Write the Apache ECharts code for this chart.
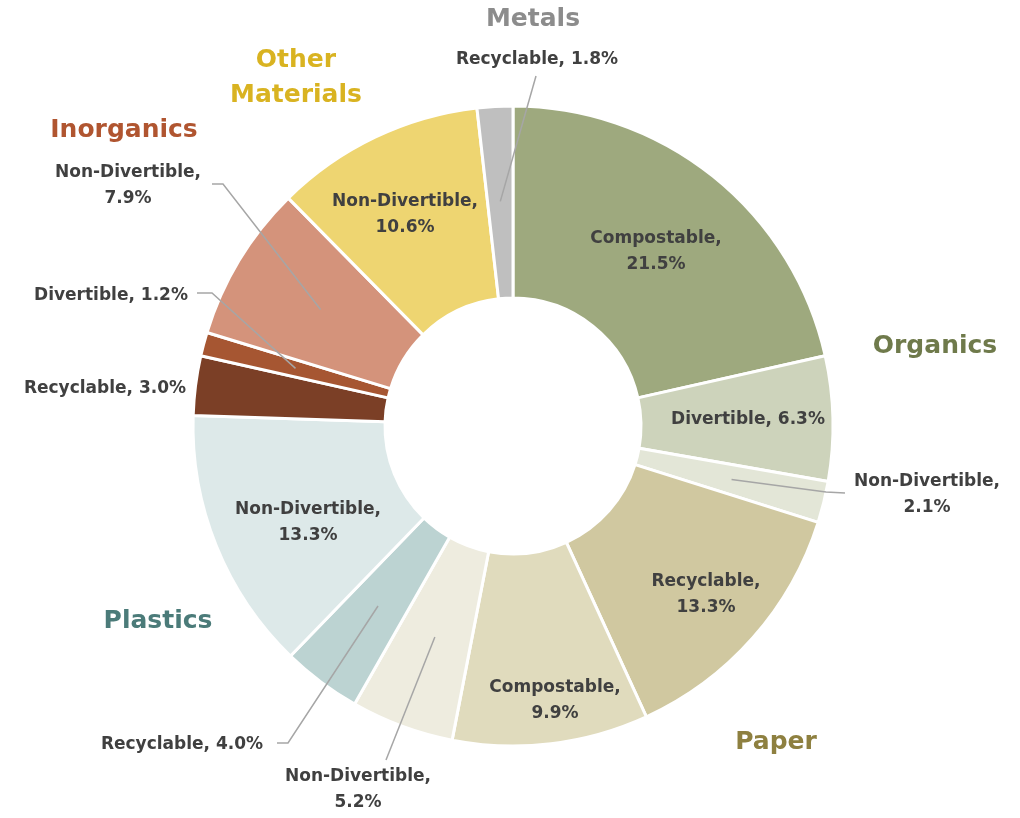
<!DOCTYPE html>
<html>
<head>
<meta charset="utf-8">
<script src="https://cdn.jsdelivr.net/npm/echarts@6/dist/echarts.min.js"></script>
<style>
html, body { margin: 0; padding: 0; background: #fff; }
#chart { width: 1020px; height: 818px; }
</style>
</head>
<body>
<div id="chart"></div>
<script>
// slices, clockwise from 12 o'clock
const sliceNames = ['Compostable', 'Divertible', 'Non-Divertible', 'Recyclable', 'Compostable', 'Non-Divertible',
    'Recyclable', 'Non-Divertible', 'Recyclable', 'Divertible', 'Non-Divertible', 'Non-Divertible', 'Recyclable'];
const sliceGroups = ['Organics', 'Organics', 'Organics', 'Paper', 'Paper', 'Paper',
    'Plastics', 'Plastics', 'Inorganics', 'Inorganics', 'Inorganics', 'Other Materials', 'Metals'];
const sliceValues = [21.5, 6.3, 2.1, 13.3, 9.9, 5.2, 4.0, 13.3, 3.0, 1.2, 7.9, 10.6, 1.8];
const sliceColors = ['#9ea97e', '#cdd3bb', '#e3e6d7', '#d0c8a0', '#e0dbbd', '#eeecdf',
    '#bcd3d2', '#dde9e9', '#7b3f26', '#a65632', '#d4937b', '#eed571', '#bfbfbf'];

const groupNames = ['Organics', 'Paper', 'Plastics', 'Inorganics', 'Other\nMaterials', 'Metals'];
const groupColors = ['#6f7a4b', '#8e8040', '#4b7b79', '#b05530', '#d9b321', '#8c8c8c'];

// label placement (text centre), leader line elbows / ends for outside labels
const twoLine = [true, false, true, true, true, true, false, true, false, false, true, true, false];
const labelPos = [[656, 252], [748, 420], [927, 495], [706, 595], [555, 701], [358, 790],
    [182, 745], [308, 523], [105, 389], [111, 296], [128, 186], [405, 215], [537, 60]];
const leader = {
    2: [[826, 492], [845, 493]],
    5: [[386, 760], [386, 760]],
    6: [[288, 743], [277, 743]],
    9: [[212, 293], [197, 293]],
    10: [[223, 184], [212, 184]],
    12: [[536, 76], [536, 76]]
};
const groupPos = [[935, 346], [776, 742], [158, 621], [124, 130], [296, 78], [533, 19]];

const cx = 513, cy = 426;
const total = sliceValues.reduce((a, b) => a + b, 0);
const midAngles = [];
let acc = 0;
sliceValues.forEach(v => {
    midAngles.push((acc + v / 2) / total * Math.PI * 2);
    acc += v;
});

const FONT = '"DejaVu Sans", "Noto Sans", sans-serif';

const chart = echarts.init(document.getElementById('chart'));

const data = sliceValues.map((v, i) => ({
    name: sliceNames[i],
    value: v,
    group: sliceGroups[i],
    itemStyle: { color: sliceColors[i] }
}));

// leader lines start inside the slice, at its mid angle
const leaderLines = Object.keys(leader).map(k => {
    const i = +k;
    const a = midAngles[i];
    const anchor = [cx + 225 * Math.sin(a), cy - 225 * Math.cos(a)];
    return {
        type: 'polyline',
        silent: true,
        z: 10,
        shape: { points: [anchor, leader[i][0], leader[i][1]] },
        style: { stroke: '#a6a6a6', lineWidth: 1.5, fill: null }
    };
});

const groupTexts = groupNames.map((g, i) => ({
    type: 'text',
    x: groupPos[i][0],
    y: groupPos[i][1],
    silent: true,
    z: 10,
    style: {
        text: g,
        fill: groupColors[i],
        font: 'bold 25px ' + FONT,
        lineHeight: 35,
        align: 'center',
        verticalAlign: 'middle'
    }
}));

const option = {
    animation: false,
    series: [{
        type: 'pie',
        center: [cx, cy],
        radius: [128, 320],
        startAngle: 90,
        clockwise: true,
        avoidLabelOverlap: false,
        silent: true,
        itemStyle: { borderColor: '#fff', borderWidth: 3 },
        label: {
            show: true,
            position: 'inside',
            color: '#404040',
            fontFamily: FONT,
            fontWeight: 'bold',
            fontSize: 17,
            lineHeight: 26,
            formatter: p => p.name + (twoLine[p.dataIndex] ? ',\n' : ', ') + p.value.toFixed(1) + '%'
        },
        labelLine: { show: false },
        labelLayout: function (params) {
            const i = params.dataIndex;
            return {
                x: labelPos[i][0],
                y: labelPos[i][1],
                align: 'center',
                verticalAlign: 'middle'
            };
        },
        data: data
    }],
    graphic: leaderLines.concat(groupTexts)
};

chart.setOption(option);
</script>
</body>
</html>
